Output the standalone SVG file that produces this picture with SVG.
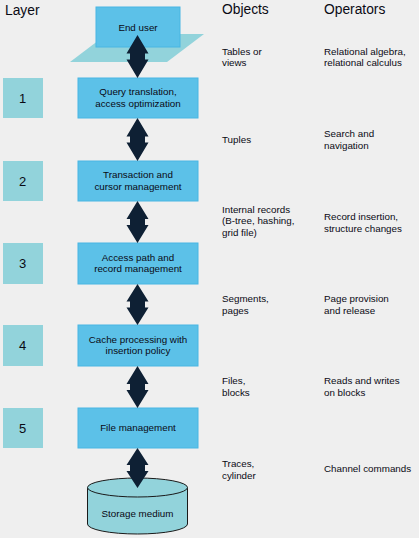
<svg xmlns="http://www.w3.org/2000/svg" width="419" height="538" viewBox="0 0 419 538">
<style>
text{font-family:"Liberation Sans",Arial,sans-serif;fill:#0a0a14;}
.h{font-size:13.8px;}
.t{font-size:9.8px;}
.c{text-anchor:middle;}
.num{font-size:13px;text-anchor:middle;}
.box{fill:#5cc1e8;stroke:#48b6e3;stroke-width:1;}
.lay{fill:#92d3db;}
.arr{fill:#0e2034;}
</style>
<rect x="0" y="0" width="419" height="538" fill="#efefef"/>
<g id="headers">
<text class="h" x="5" y="14.5">Layer</text>
<text class="h" x="222" y="14">Objects</text>
<text class="h" x="324" y="14">Operators</text>
</g>
<g id="enduser">
<polygon points="70,62 167,62 204,34 107,34" fill="#92d3db"/>
<rect class="box" x="96" y="7" width="84" height="40"/>
<text class="t c" x="138" y="30.5">End user</text>
</g>
<g id="layer1">
<rect class="lay" x="3" y="78" width="40" height="40"/>
<text class="num" x="22.5" y="102.6">1</text>
</g>
<g id="layer2">
<rect class="lay" x="3" y="161" width="40" height="40"/>
<text class="num" x="22.5" y="185.6">2</text>
</g>
<g id="layer3">
<rect class="lay" x="3" y="243" width="40" height="41"/>
<text class="num" x="22.5" y="268">3</text>
</g>
<g id="layer4">
<rect class="lay" x="3" y="325" width="40" height="41"/>
<text class="num" x="22.5" y="350">4</text>
</g>
<g id="layer5">
<rect class="lay" x="3" y="408" width="40" height="40"/>
<text class="num" x="22.5" y="432.6">5</text>
</g>
<g id="query">
<rect class="box" x="78" y="78" width="120" height="40"/>
<text class="t c" x="138" y="94.8">Query translation,</text>
<text class="t c" x="138" y="106.6">access optimization</text>
</g>
<g id="transaction">
<rect class="box" x="78" y="161" width="120" height="40"/>
<text class="t c" x="138" y="178">Transaction and</text>
<text class="t c" x="138" y="189.5">cursor management</text>
</g>
<g id="access">
<rect class="box" x="78" y="243" width="120" height="41"/>
<text class="t c" x="138" y="260.5">Access path and</text>
<text class="t c" x="138" y="272">record management</text>
</g>
<g id="cache">
<rect class="box" x="78" y="325" width="120" height="41"/>
<text class="t c" x="138" y="342.5">Cache processing with</text>
<text class="t c" x="138" y="354">insertion policy</text>
</g>
<g id="file">
<rect class="box" x="78" y="408" width="120" height="40"/>
<text class="t c" x="138" y="430.5">File management</text>
</g>
<g id="storage">
<path d="M87.5,487.5 L87.5,524 A50,10 0 0 0 187.5,524 L187.5,487.5" fill="#92d3db" stroke="#1a1a1a" stroke-width="1"/>
<ellipse cx="137.5" cy="487.5" rx="50" ry="9.5" fill="#92d3db" stroke="#1a1a1a" stroke-width="1"/>
<text class="t c" x="137.5" y="516.5">Storage medium</text>
</g>
<g id="connectors">
<path class="arr" d="M137.5,35 L148.5,53.5 L145,53.5 L145,59.5 L148.5,59.5 L137.5,78 L126.5,59.5 L130,59.5 L130,53.5 L126.5,53.5 Z"/>
<path class="arr" d="M137.5,118 L148.5,136.5 L145,136.5 L145,142.5 L148.5,142.5 L137.5,161 L126.5,142.5 L130,142.5 L130,136.5 L126.5,136.5 Z"/>
<path class="arr" d="M137.5,201 L148.5,219 L145,219 L145,225 L148.5,225 L137.5,243 L126.5,225 L130,225 L130,219 L126.5,219 Z"/>
<path class="arr" d="M137.5,284 L148.5,301.5 L145,301.5 L145,307.5 L148.5,307.5 L137.5,325 L126.5,307.5 L130,307.5 L130,301.5 L126.5,301.5 Z"/>
<path class="arr" d="M137.5,366 L148.5,384 L145,384 L145,390 L148.5,390 L137.5,408 L126.5,390 L130,390 L130,384 L126.5,384 Z"/>
<path class="arr" d="M137.5,448 L148.5,465 L145,465 L145,471 L148.5,471 L137.5,488 L126.5,471 L130,471 L130,465 L126.5,465 Z"/>
</g>
<g id="objects">
<text class="t" x="222" y="55">Tables or</text>
<text class="t" x="222" y="66">views</text>
<text class="t" x="222" y="142.5">Tuples</text>
<text class="t" x="222" y="212.5">Internal records</text>
<text class="t" x="222" y="224">(B-tree, hashing,</text>
<text class="t" x="222" y="235.5">grid file)</text>
<text class="t" x="222" y="302">Segments,</text>
<text class="t" x="222" y="313.5">pages</text>
<text class="t" x="222" y="384">Files,</text>
<text class="t" x="222" y="395.5">blocks</text>
<text class="t" x="222" y="467">Traces,</text>
<text class="t" x="222" y="478.5">cylinder</text>
</g>
<g id="operators">
<text class="t" x="324" y="55">Relational algebra,</text>
<text class="t" x="324" y="66">relational calculus</text>
<text class="t" x="324" y="137">Search and</text>
<text class="t" x="324" y="148.5">navigation</text>
<text class="t" x="324" y="220">Record insertion,</text>
<text class="t" x="324" y="231.5">structure changes</text>
<text class="t" x="324" y="302">Page provision</text>
<text class="t" x="324" y="313.5">and release</text>
<text class="t" x="324" y="384">Reads and writes</text>
<text class="t" x="324" y="395.5">on blocks</text>
<text class="t" x="324" y="472">Channel commands</text>
</g>
</svg>
